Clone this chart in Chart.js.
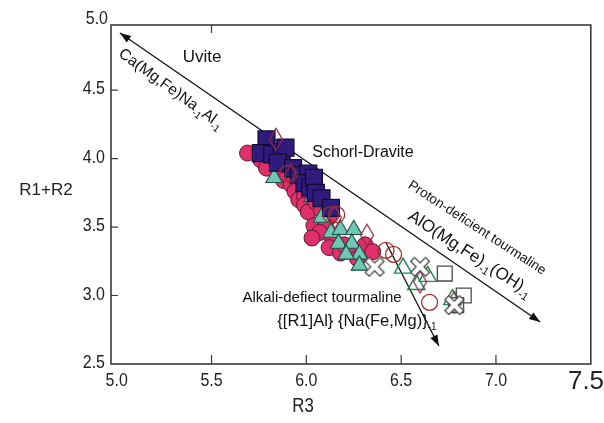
<!DOCTYPE html>
<html>
<head>
<meta charset="utf-8">
<script src="https://cdn.jsdelivr.net/npm/chart.js@4.4.0/dist/chart.umd.min.js"></script>
<style>
  html, body { margin: 0; padding: 0; background: #fff; }
  #wrap { width: 604px; height: 423px; }
</style>
</head>
<body>
<div id="wrap"><canvas id="chart" width="604" height="423"></canvas></div>
<script>
// Axis ticks
const xTicks = [5.0, 5.5, 6.0, 6.5, 7.0];
const yTicks = [2.5, 3.0, 3.5, 4.0, 4.5];

// Filled pink circles
const pinkX = [5.69, 5.76, 5.79, 5.86, 5.88, 5.92, 5.94, 5.96, 5.99, 5.99, 6.01, 6.05, 6.08, 6.12, 6.04, 6.10, 6.07, 6.03, 6.14, 6.12, 6.18, 6.20, 6.25, 6.31, 6.35, 6.27];
const pinkY = [4.04, 3.99, 3.93, 3.90, 3.84, 3.81, 3.76, 3.70, 3.73, 3.66, 3.61, 3.68, 3.62, 3.57, 3.51, 3.50, 3.46, 3.42, 3.41, 3.35, 3.31, 3.37, 3.33, 3.37, 3.32, 3.27];

// Filled teal triangles
const tealX = [5.83, 6.03, 6.08, 6.13, 6.18, 6.17, 6.25, 6.24, 6.28, 6.21, 6.28];
const tealY = [3.86, 3.72, 3.57, 3.46, 3.48, 3.38, 3.48, 3.38, 3.30, 3.30, 3.22];

// Filled navy squares
const navyX = [5.79, 5.76, 5.82, 5.87, 5.89, 5.85, 5.93, 5.96, 6.01, 5.99, 6.02, 6.04, 6.05, 6.08, 6.13];
const navyY = [4.14, 4.04, 4.03, 4.05, 4.08, 3.97, 3.93, 3.88, 3.89, 3.82, 3.79, 3.86, 3.75, 3.71, 3.64];

// Open circles
const ringX = [5.90, 6.13, 6.16, 6.42, 6.46, 6.65];
const ringY = [3.89, 3.59, 3.59, 3.33, 3.30, 2.95];

// Open diamonds
const diamX = [5.84, 5.92, 6.15, 6.32, 6.60, 6.78];
const diamY = [4.14, 3.88, 3.57, 3.44, 3.10, 2.95];

// Open green triangles
const greenX = [6.51, 6.58, 6.64, 6.77];
const greenY = [3.20, 3.08, 3.14, 2.97];

// Open grey squares
const boxX = [6.73, 6.83, 6.79];
const boxY = [3.16, 3.00, 2.93];

// Crosses
const crossX = [6.36, 6.60, 6.78];
const crossY = [3.21, 3.21, 2.93];

// Vector lines (data units)
const vecLong = { x: [5.017, 7.233], y: [4.916, 2.807] };
const vecAlk = { x: [6.421, 6.699], y: [3.383, 2.631] };

const sans = "'Liberation Sans', Arial, sans-serif";

function pts(xs, ys) {
    return xs.map((x, i) => ({ x: x, y: ys[i] }));
}

function makeCross() {
    const c = document.createElement('canvas');
    c.width = 26; c.height = 26;
    const g = c.getContext('2d');
    g.translate(13, 13);
    g.rotate(Math.PI / 4);
    const w = 2.8, L = 10.5;
    const p = [[-w,-L],[w,-L],[w,-w],[L,-w],[L,w],[w,w],[w,L],[-w,L],[-w,w],[-L,w],[-L,-w],[-w,-w]];
    g.beginPath();
    p.forEach((q, i) => i ? g.lineTo(q[0], q[1]) : g.moveTo(q[0], q[1]));
    g.closePath();
    g.fillStyle = '#fff';
    g.fill();
    g.strokeStyle = '#4a4a4a';
    g.lineWidth = 1.3;
    g.stroke();
    return c;
}

function makeDiamond() {
    const c = document.createElement('canvas');
    c.width = 16; c.height = 25;
    const g = c.getContext('2d');
    g.beginPath();
    g.moveTo(8, 1.5);
    g.lineTo(14.5, 12.5);
    g.lineTo(8, 23.5);
    g.lineTo(1.5, 12.5);
    g.closePath();
    g.strokeStyle = '#8f2a50';
    g.lineWidth = 1.3;
    g.stroke();
    return c;
}

function arrow(ctx, x1, y1, x2, y2) {
    const a = Math.atan2(y2 - y1, x2 - x1);
    const len = 11, half = 4;
    ctx.beginPath();
    ctx.moveTo(x2, y2);
    ctx.lineTo(x2 - len * Math.cos(a) + half * Math.sin(a), y2 - len * Math.sin(a) - half * Math.cos(a));
    ctx.lineTo(x2 - len * Math.cos(a) - half * Math.sin(a), y2 - len * Math.sin(a) + half * Math.cos(a));
    ctx.closePath();
    ctx.fill();
}

// condensed text (the figure uses a narrow face for the numbers)
function narrowText(ctx, t, x, y, align, size) {
    ctx.save();
    ctx.translate(x, y);
    ctx.scale(0.84, 1);
    ctx.font = size + 'px ' + sans;
    ctx.textAlign = align;
    ctx.textBaseline = 'middle';
    ctx.fillText(t, 0, 0);
    ctx.restore();
}

// text with "-1" style subscripts, centred on (cx, cy)
function rich(ctx, parts, cx, cy, angle, size) {
    const main = size + 'px ' + sans;
    const sub = Math.round(size * 0.62) + 'px ' + sans;
    ctx.save();
    ctx.translate(cx, cy);
    ctx.rotate(angle);
    ctx.textBaseline = 'middle';
    ctx.textAlign = 'left';
    let total = 0;
    const ws = parts.map(p => {
        ctx.font = p[1] ? sub : main;
        const w = ctx.measureText(p[0]).width;
        total += w;
        return w;
    });
    let x = -total / 2;
    parts.forEach((p, i) => {
        ctx.font = p[1] ? sub : main;
        ctx.fillText(p[0], x, p[1] ? size * 0.38 : 0);
        x += ws[i];
    });
    ctx.restore();
}

const decor = {
    id: 'decor',
    beforeDatasetsDraw(chart) {
        const ctx = chart.ctx;
        const sx = chart.scales.x, sy = chart.scales.y;
        ctx.save();
        ctx.strokeStyle = '#111';
        ctx.fillStyle = '#111';
        ctx.lineWidth = 1.3;
        [vecLong, vecAlk].forEach((v, k) => {
            const x1 = sx.getPixelForValue(v.x[0]), y1 = sy.getPixelForValue(v.y[0]);
            const x2 = sx.getPixelForValue(v.x[1]), y2 = sy.getPixelForValue(v.y[1]);
            ctx.beginPath();
            ctx.moveTo(x1, y1);
            ctx.lineTo(x2, y2);
            ctx.stroke();
            arrow(ctx, x1, y1, x2, y2);
            if (k === 0) arrow(ctx, x2, y2, x1, y1);
        });
        ctx.restore();
    },
    afterDraw(chart) {
        const ctx = chart.ctx;
        const a = chart.chartArea;
        const sx = chart.scales.x, sy = chart.scales.y;
        ctx.save();
        // frame
        ctx.strokeStyle = '#3a3a3a';
        ctx.lineWidth = 1.6;
        ctx.strokeRect(a.left, a.top, a.right - a.left, a.bottom - a.top);
        // inward ticks
        ctx.lineWidth = 1.2;
        ctx.beginPath();
        xTicks.slice(1).forEach(v => {
            const px = sx.getPixelForValue(v);
            ctx.moveTo(px, a.bottom);
            ctx.lineTo(px, a.bottom - 9);
        });
        const tp = sx.getPixelForValue(5.5);
        ctx.moveTo(tp, a.top);
        ctx.lineTo(tp, a.top + 8);
        yTicks.slice(1).forEach(v => {
            const py = sy.getPixelForValue(v);
            ctx.moveTo(a.left, py);
            ctx.lineTo(a.left + 7, py);
        });
        ctx.stroke();

        ctx.fillStyle = '#222';
        // tick labels from the scales
        xTicks.forEach(v => narrowText(ctx, v.toFixed(1), sx.getPixelForValue(v), a.bottom + 17, 'center', 19));
        yTicks.forEach(v => narrowText(ctx, v.toFixed(1), a.left - 6, sy.getPixelForValue(v) - 1, 'right', 19));
        narrowText(ctx, '5.0', 108, 19, 'right', 19);
        ctx.font = '26px ' + sans;
        ctx.textAlign = 'center';
        ctx.textBaseline = 'middle';
        ctx.fillText('7.5', 586, 382);
        // axis titles
        narrowText(ctx, 'R3', 303, 406, 'center', 20);
        ctx.font = '17px ' + sans;
        ctx.fillText('R1+R2', 46, 190);

        // field labels
        ctx.fillStyle = '#111';
        ctx.font = '17px ' + sans;
        ctx.fillText('Uvite', 202, 57);
        ctx.font = '16px ' + sans;
        ctx.fillText('Schorl-Dravite', 363, 153);
        ctx.font = '15px ' + sans;
        ctx.fillText('Alkali-defiect tourmaline', 322, 298);
        rich(ctx, [['{[R1]Al} {Na(Fe,Mg)}', false], ['-1', true]], 357, 321, 0, 16.5);
        rich(ctx, [['Ca(Mg,Fe)Na', false], ['-1', true], ['Al', false], ['-1', true]], 171, 89, 36 * Math.PI / 180, 15.5);
        ctx.save();
        ctx.translate(477, 228);
        ctx.rotate(33 * Math.PI / 180);
        ctx.font = '13.5px ' + sans;
        ctx.fillText('Proton-deficient tourmaline', 0, 0);
        ctx.restore();
        rich(ctx, [['AlO(Mg,Fe)', false], ['-1', true], ['(OH)', false], ['-1', true]], 470, 254, 33 * Math.PI / 180, 17);
        ctx.restore();
    }
};

const crossImg = makeCross();
const diamImg = makeDiamond();

new Chart(document.getElementById('chart'), {
    type: 'scatter',
    data: {
        datasets: [
            { label: 'cross', data: pts(crossX, crossY), pointStyle: crossImg, order: 1 },
            { label: 'box', data: pts(boxX, boxY), pointStyle: 'rect', pointRadius: 10.5, backgroundColor: 'rgba(0,0,0,0)', borderColor: '#4a4a4a', borderWidth: 1.3, order: 2 },
            { label: 'diamond', data: pts(diamX, diamY), pointStyle: diamImg, order: 3 },
            { label: 'green', data: pts(greenX, greenY), pointStyle: 'triangle', pointRadius: 10, backgroundColor: 'rgba(0,0,0,0)', borderColor: '#1f8c50', borderWidth: 1.4, order: 4 },
            { label: 'ring', data: pts(ringX, ringY), pointStyle: 'circle', pointRadius: 8, backgroundColor: 'rgba(0,0,0,0)', borderColor: '#9c3232', borderWidth: 1.3, order: 5 },
            { label: 'navy', data: pts(navyX, navyY), pointStyle: 'rect', pointRadius: 12, backgroundColor: '#2e1b7c', borderColor: '#120a2e', borderWidth: 1.2, order: 6 },
            { label: 'teal', data: pts(tealX, tealY), pointStyle: 'triangle', pointRadius: 9.5, backgroundColor: '#6fc8b4', borderColor: '#1f4f48', borderWidth: 1.1, order: 7 },
            { label: 'pink', data: pts(pinkX, pinkY), pointStyle: 'circle', pointRadius: 8, backgroundColor: '#e0306b', borderColor: '#5a1a30', borderWidth: 1, order: 8 }
        ]
    },
    options: {
        responsive: false,
        animation: false,
        events: [],
        layout: { padding: { left: 0, right: 10, top: 25, bottom: 0 } },
        plugins: { legend: { display: false }, tooltip: { enabled: false } },
        scales: {
            x: {
                type: 'linear',
                min: 4.97,
                max: 7.5,
                afterBuildTicks: s => { s.ticks = xTicks.map(v => ({ value: v })); },
                afterFit: s => { s.height = 59; },
                grid: { display: false },
                border: { display: false },
                ticks: { display: false }
            },
            y: {
                type: 'linear',
                min: 2.5,
                max: 4.975,
                afterBuildTicks: s => { s.ticks = yTicks.map(v => ({ value: v })); },
                afterFit: s => { s.width = 111; },
                grid: { display: false },
                border: { display: false },
                ticks: { display: false }
            }
        }
    },
    plugins: [decor]
});
</script>
</body>
</html>
